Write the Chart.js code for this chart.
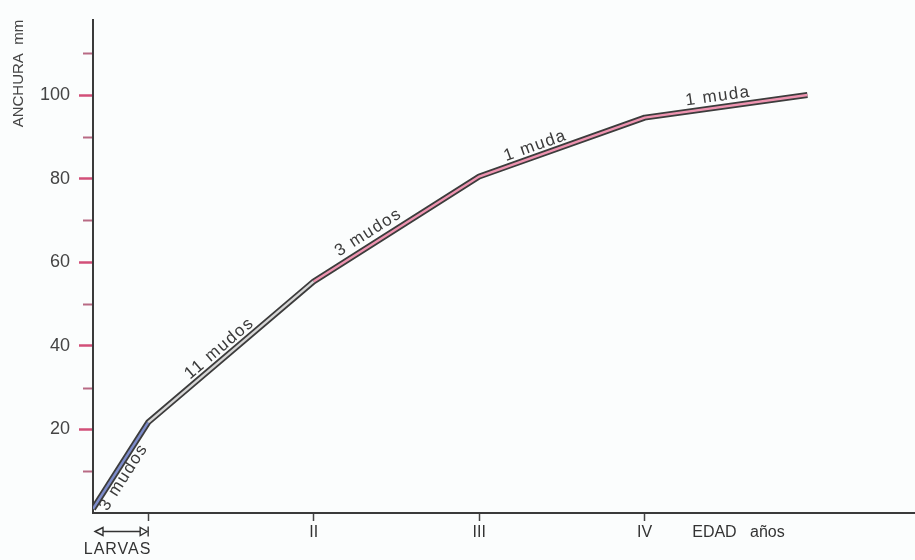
<!DOCTYPE html>
<html>
<head>
<meta charset="utf-8">
<script src="https://cdn.jsdelivr.net/npm/chart.js@4.4.1/dist/chart.umd.min.js"></script>
<style>
  html, body { margin: 0; padding: 0; background: #fbfdfd; }
  #wrap { width: 915px; height: 560px; position: relative; }
</style>
</head>
<body>
<div id="wrap"><canvas id="c"></canvas></div>
<script>
// ---- data (x in thirds of a year: 0 = hatching, 1 = end of larvae / I, 4 = II, 7 = III, 10 = IV)
const edad      = [0, 1, 4, 7, 10, 12.95];
const anchura   = [1, 21.7, 55.4, 80.5, 94.6, 100];
const segLabels = ['3 mudos', '11 mudos', '3 mudos', '1 muda', '1 muda'];
const xTickVals   = [1, 4, 7, 10, 11.7];
const xTickLabels = ['', 'II', 'III', 'IV', 'EDAD   años'];
const yMajorTicks = [20, 40, 60, 80, 100];
const yMinorTicks = [10, 30, 50, 70, 90, 110];
const larvasRange = [0, 1];
const larvasLabel = 'LARVAS';
const yTitle = 'ANCHURA  mm';

// ---- presentation
const segColors = ['#7d8ccb', '#d6d6d6', '#ee93b0', '#ee93b0', '#ee93b0'];
const labelSide = [-1, 1, 1, 1, 1];      // -1 below the line, 1 above
const labelT    = [0.42, 0.47, 0.37, 0.36, 0.46];
const labelOff  = [9, 10, 12, 10, 11];
const SANS = "'Liberation Sans', Arial, sans-serif";

const pts = edad.map((x, i) => ({ x: x, y: anchura[i] }));

const annot = {
  id: 'annot',
  afterDatasetsDraw(chart) {
    const ctx = chart.ctx, xs = chart.scales.x, ys = chart.scales.y;
    ctx.save();
    // minor y ticks
    ctx.strokeStyle = '#b86a84';
    ctx.lineWidth = 2;
    yMinorTicks.forEach(v => {
      const py = Math.round(ys.getPixelForValue(v)) + 0.5;
      ctx.beginPath();
      ctx.moveTo(xs.left - 10, py);
      ctx.lineTo(xs.left - 1, py);
      ctx.stroke();
    });
    // segment labels
    ctx.fillStyle = '#3a3a3a';
    ctx.font = "17px " + SANS;
    try { ctx.letterSpacing = '1.5px'; } catch (e) {}
    ctx.textAlign = 'center';
    ctx.textBaseline = 'middle';
    for (let i = 0; i < segLabels.length; i++) {
      const x0 = xs.getPixelForValue(edad[i]), y0 = ys.getPixelForValue(anchura[i]);
      const x1 = xs.getPixelForValue(edad[i + 1]), y1 = ys.getPixelForValue(anchura[i + 1]);
      const dx = x1 - x0, dy = y1 - y0, L = Math.hypot(dx, dy);
      const nx = dy / L, ny = -dx / L; // points "above"
      const t = labelT[i], off = labelOff[i] * labelSide[i];
      const cx = x0 + dx * t + nx * off, cy = y0 + dy * t + ny * off;
      ctx.save();
      ctx.translate(cx, cy);
      ctx.rotate(Math.atan2(dy, dx));
      ctx.fillText(segLabels[i], 0, 0);
      ctx.restore();
    }
    // LARVAS arrow
    const ax0 = xs.getPixelForValue(larvasRange[0]) + 2;
    const ax1 = xs.getPixelForValue(larvasRange[1]);
    const ay = xs.top + 18.5;
    ctx.strokeStyle = '#333';
    ctx.lineWidth = 1.4;
    ctx.beginPath();
    ctx.moveTo(ax0 + 8, ay); ctx.lineTo(ax1 - 8, ay);
    ctx.stroke();
    ctx.beginPath();
    ctx.moveTo(ax0, ay); ctx.lineTo(ax0 + 8, ay - 4); ctx.lineTo(ax0 + 8, ay + 4); ctx.closePath();
    ctx.stroke();
    ctx.beginPath();
    ctx.moveTo(ax1 - 1, ay); ctx.lineTo(ax1 - 8, ay - 4); ctx.lineTo(ax1 - 8, ay + 4); ctx.closePath();
    ctx.stroke();
    ctx.beginPath();
    ctx.moveTo(ax1, ay - 5); ctx.lineTo(ax1, ay + 5);
    ctx.stroke();
    ctx.font = "16px " + SANS;
    ctx.fillStyle = '#333';
    try { ctx.letterSpacing = '1px'; } catch (e) {}
    ctx.fillText(larvasLabel, (ax0 + ax1) / 2 - 4, ay + 18);
    ctx.restore();
  }
};

new Chart(document.getElementById('c'), {
  type: 'line',
  data: {
    datasets: [
      {
        data: pts,
        order: 2,
        borderColor: '#3c3c3c',
        borderWidth: 6,
        pointRadius: 0,
        tension: 0,
        borderJoinStyle: 'round',
        borderCapStyle: 'butt'
      },
      {
        data: pts,
        order: 1,
        borderWidth: 2.4,
        pointRadius: 0,
        tension: 0,
        borderColor: segColors[2],
        segment: { borderColor: c => segColors[c.p0DataIndex] }
      }
    ]
  },
  options: {
    responsive: true,
    maintainAspectRatio: false,
    animation: false,
    devicePixelRatio: 1,
    layout: { padding: { top: 18, right: 0, left: 0, bottom: 0 } },
    plugins: { legend: { display: false }, tooltip: { enabled: false } },
    scales: {
      x: {
        type: 'linear',
        min: 0,
        max: 14.9,
        afterBuildTicks: s => { s.ticks = xTickVals.map(v => ({ value: v })); },
        afterFit: s => { s.height = 47; },
        grid: {
          drawOnChartArea: false,
          drawTicks: true,
          tickLength: 8,
          tickWidth: 1.5,
          tickColor: c => (c.index === xTickVals.length - 1 ? 'rgba(0,0,0,0)' : '#444')
        },
        border: { color: '#3a3a3a', width: 2 },
        ticks: {
          autoSkip: false,
          maxRotation: 0,
          padding: 2,
          color: '#333',
          font: { family: SANS, size: 16 },
          callback: (v, i) => xTickLabels[i]
        }
      },
      y: {
        type: 'linear',
        min: 0,
        max: 118,
        afterBuildTicks: s => { s.ticks = yMajorTicks.map(v => ({ value: v })); },
        afterFit: s => { s.width = 93; },
        grid: {
          drawOnChartArea: false,
          drawTicks: true,
          tickLength: 14,
          tickWidth: 2.5,
          tickColor: '#d24f78'
        },
        border: { color: '#3a3a3a', width: 2 },
        title: {
          display: true,
          text: yTitle,
          align: 'end',
          color: '#444',
          font: { family: SANS, size: 15 },
          padding: { top: 10, bottom: 0 }
        },
        ticks: {
          padding: 9,
          color: '#444',
          font: { family: SANS, size: 18 },
          callback: v => String(v)
        }
      }
    }
  },
  plugins: [annot]
});
</script>
</body>
</html>
